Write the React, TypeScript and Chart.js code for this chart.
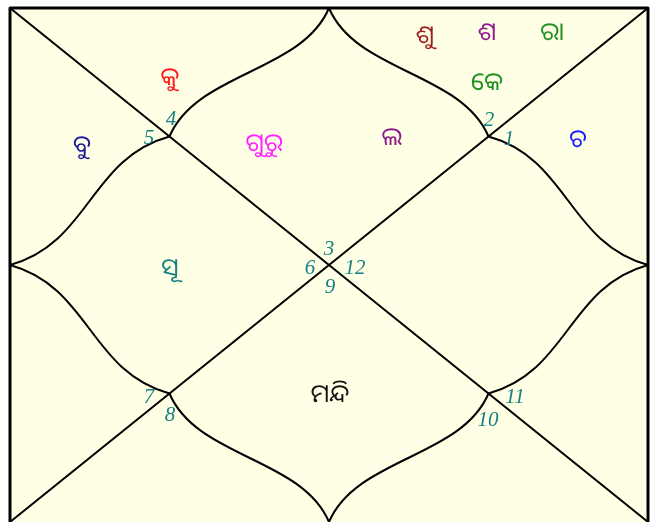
import React, { useEffect, useRef } from "react";
import { Chart, registerables } from "chart.js";

Chart.register(...registerables);

// Box units: x 0..638 (left to right), y 0..514 (top to bottom)
const BOX_W = 638;
const BOX_H = 514;

// Planet labels (Odia abbreviations)
const planetLabels = ["ଶୁ", "ଶ", "ରା", "କେ", "କୁ", "ବୁ", "ଗୁରୁ", "ଲ", "ଚ", "ସୂ", "ମନ୍ଦି"];
const planetColors = ["#9a1c1c", "#8b1a8b", "#1f8f1f", "#1f8f1f", "#ff1a1a", "#1a1a9a", "#ff22ff", "#8b1a8b", "#1a1aff", "#148080", "#111111"];
const planetX = [415, 477, 542, 477, 160, 72, 254, 382, 568, 160, 320];
const planetY = [28, 25, 25, 75, 70, 138, 136, 130, 132, 261, 387];

// House numbers at the corners of the houses
const houseNumbers = ["1", "2", "3", "4", "5", "6", "7", "8", "9", "10", "11", "12"];
const houseX = [499, 479, 319, 161, 139, 300, 139, 160, 320, 478, 505, 345];
const houseY = [131, 112, 241, 111, 130, 260, 389, 407, 279, 412, 389, 260];

export default function App() {
  const ref = useRef<HTMLCanvasElement | null>(null);

  useEffect(() => {
    if (!ref.current) return;
    const framePlugin = {
      id: "frame",
      beforeDraw(chart: any) {
        const { ctx, chartArea } = chart;
        const xs = chart.scales.x;
        const ys = chart.scales.y;
        const px = (v: number) => xs.getPixelForValue(v);
        const py = (v: number) => ys.getPixelForValue(v);
        ctx.save();
        ctx.fillStyle = "#ffffff";
        ctx.fillRect(0, 0, chart.width, chart.height);
        ctx.fillStyle = "#ffffe6";
        ctx.fillRect(chartArea.left, chartArea.top, chartArea.right - chartArea.left, chartArea.bottom - chartArea.top + 4);

        const W = BOX_W, H = BOX_H;
        const cx = W / 2, cy = H / 2;
        const qx = W / 4, qy = H / 4;
        ctx.strokeStyle = "#000";
        ctx.lineWidth = 2;
        ctx.lineJoin = "round";
        // diagonals
        ctx.beginPath();
        ctx.moveTo(px(0), py(0));
        ctx.lineTo(px(W), py(H));
        ctx.moveTo(px(W), py(0));
        ctx.lineTo(px(0), py(H));
        ctx.stroke();

        // curved lotus lines
        const mids = [
          { m: [cx, 0], vert: true },
          { m: [cx, H], vert: true },
          { m: [0, cy], vert: false },
          { m: [W, cy], vert: false },
        ];
        const corners: Record<string, number[][]> = {
          top: [[qx, qy], [W - qx, qy]],
          bottom: [[qx, H - qy], [W - qx, H - qy]],
          left: [[qx, qy], [qx, H - qy]],
          right: [[W - qx, qy], [W - qx, H - qy]],
        };
        const keys = ["top", "bottom", "left", "right"];
        ctx.beginPath();
        mids.forEach((md, i) => {
          corners[keys[i]].forEach((c) => {
            const [mx, my] = md.m;
            const dx = c[0] - mx, dy = c[1] - my;
            let p1, p2;
            if (md.vert) {
              p1 = [mx + 0.17 * dx, my + 0.5 * dy];
              p2 = [mx + 0.83 * dx, my + 0.5 * dy];
            } else {
              p1 = [mx + 0.5 * dx, my + 0.17 * dy];
              p2 = [mx + 0.5 * dx, my + 0.83 * dy];
            }
            ctx.moveTo(px(mx), py(my));
            ctx.bezierCurveTo(px(p1[0]), py(p1[1]), px(p2[0]), py(p2[1]), px(c[0]), py(c[1]));
          });
        });
        ctx.stroke();

        // border (top, left, right)
        ctx.lineWidth = 3;
        ctx.lineCap = "square";
        ctx.beginPath();
        ctx.moveTo(px(0), py(H) + 4);
        ctx.lineTo(px(0), py(0));
        ctx.lineTo(px(W), py(0));
        ctx.lineTo(px(W), py(H) + 4);
        ctx.stroke();
        ctx.restore();
      },
      afterDraw(chart: any) {
        const { ctx } = chart;
        ctx.save();
        ctx.textAlign = "center";
        ctx.textBaseline = "middle";
        const pm = chart.getDatasetMeta(0);
        pm.data.forEach((el: any, i: number) => {
          ctx.fillStyle = planetColors[i];
          ctx.font = '25px "Noto Sans Oriya", "Noto Sans", sans-serif';
          ctx.fillText(planetLabels[i], el.x, el.y);
        });
        const hm = chart.getDatasetMeta(1);
        hm.data.forEach((el: any, i: number) => {
          ctx.fillStyle = "#168080";
          ctx.font = 'italic 21px "Liberation Serif", "DejaVu Serif", serif';
          ctx.fillText(houseNumbers[i], el.x, el.y);
        });
        ctx.restore();
      },
    };

    const chart = new Chart(ref.current, {
      type: "scatter",
      data: {
        datasets: [
          {
            label: "planets",
            data: planetLabels.map((_, i) => ({ x: planetX[i], y: planetY[i] })),
            pointRadius: 0,
            pointHoverRadius: 0,
          },
          {
            label: "houses",
            data: houseNumbers.map((_, i) => ({ x: houseX[i], y: houseY[i] })),
            pointRadius: 0,
            pointHoverRadius: 0,
          },
        ],
      },
      options: {
        animation: false,
        responsive: false,
        devicePixelRatio: 1,
        events: [],
        layout: { padding: { left: 10, top: 8, right: 3, bottom: 0 } },
        scales: {
          x: { type: "linear", min: 0, max: BOX_W, display: false },
          y: { type: "linear", min: 0, max: BOX_H, reverse: true, display: false },
        },
        plugins: { legend: { display: false }, tooltip: { enabled: false } },
      },
      plugins: [framePlugin],
    });
    return () => chart.destroy();
  }, []);

  return (
    <div style={{ position: "absolute", left: 0, top: 0, width: 651, height: 522, background: "#fff" }}>
      <canvas ref={ref} width={651} height={522} style={{ display: "block" }} />
    </div>
  );
}
